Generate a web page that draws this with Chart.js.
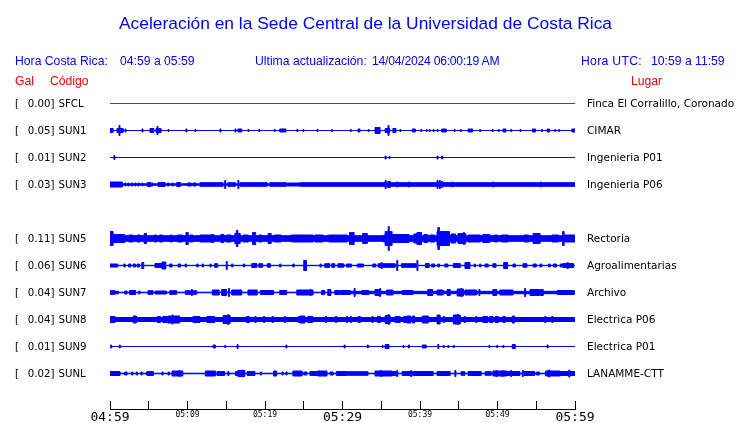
<!DOCTYPE html>
<html><head><meta charset="utf-8">
<script src="https://cdn.jsdelivr.net/npm/chart.js@4"></script>
<style>
html,body{margin:0;padding:0;background:#fff;}
#wrap{position:relative;width:740px;height:423px;overflow:hidden;background:#fff;}
#c{position:absolute;left:0;top:0;}
.t{position:absolute;white-space:pre;font-family:'Liberation Sans',Arial,sans-serif;line-height:1;}
.b{color:#0000ff}.r{color:#ff0000}
</style></head><body>
<div id="wrap">
<canvas id="c" width="740" height="423"></canvas>
<div class="t b" style="left:119px;top:14.8px;font-size:17.4px">Aceleración en la Sede Central de la Universidad de Costa Rica</div>
<div class="t b" style="left:15px;top:54.7px;font-size:12.2px">Hora Costa Rica:</div>
<div class="t b" style="left:120px;top:54.7px;font-size:12.2px">04:59 a 05:59</div>
<div class="t b" style="left:255px;top:54.7px;font-size:12.2px">Ultima actualización:</div>
<div class="t b" style="left:372px;top:54.7px;font-size:12.2px;letter-spacing:-0.25px">14/04/2024 06:00:19 AM</div>
<div class="t b" style="left:581px;top:54.7px;font-size:12.2px;letter-spacing:0.3px">Hora UTC:</div>
<div class="t b" style="left:651px;top:54.7px;font-size:12.2px">10:59 a 11:59</div>
<div class="t r" style="left:15px;top:74.7px;font-size:12.2px">Gal</div>
<div class="t r" style="left:50px;top:74.7px;font-size:12.2px">Código</div>
<div class="t r" style="left:631px;top:74.7px;font-size:12.2px">Lugar</div>
</div>
<script>
// ---- data ----
const codes  = ['SFCL','SUN1','SUN2','SUN3','SUN5','SUN6','SUN7','SUN8','SUN9','SUNL'];
const gal    = [0.00, 0.05, 0.01, 0.03, 0.11, 0.06, 0.04, 0.04, 0.01, 0.02];
const places = ['Finca El Corralillo, Coronado','CIMAR','Ingenieria P01','Ingenieria P06','Rectoria','Agroalimentarias','Archivo','Electrica P06','Electrica P01','LANAMME-CTT'];
const rows   = [0, 1, 2, 3, 5, 6, 7, 8, 9, 10];
const baseHalf = [0, 0, 0, 0.7, 2.8, 0.2, 0.3, 2, 0, 0.3];
const xTickLabels = ['04:59','05:09','05:19','05:29','05:39','05:49','05:59'];
// events: [minute, half amplitude, duration in minutes]
const evSFCL = [];
const evSUN1 = [[0,2,0.4],[0.9,2,0.8],[1.16,5,0.13],[1.94,1.5,0.13],[4.13,1.5,0.13],[5.16,2,0.5],[5.94,2,0.65],[6.06,4,0.13],[7.48,1,0.13],[9.8,1.5,0.13],[10.97,1,0.13],[14.19,1.5,0.13],[16.13,1.5,0.13],[16.5,1.5,0.5],[17.8,1,0.13],[19.2,1,0.13],[21.2,1,0.13],[21.9,1.5,0.8],[24.1,1,0.13],[24.9,1,0.13],[26.7,1,0.13],[28.6,1,0.13],[31.0,1,0.13],[32.0,1.5,0.26],[33.3,1,0.13],[34.2,3,0.65],[35.5,2,0.6],[35.87,5,0.13],[36.5,2,0.4],[37.4,1,0.13],[39.0,1.5,0.4],[40.1,1,0.13],[40.8,1,0.13],[41.2,1,0.13],[41.7,1,0.13],[42.2,1,0.13],[42.8,1.5,0.6],[44.4,1,0.13],[45.2,1,0.13],[46.2,1.5,0.6],[47.7,1,0.13],[49.3,1,0.13],[50.1,1,0.13],[50.7,1.5,0.4],[51.7,1,0.13],[52.9,1,0.13],[54.5,1.5,0.4],[55.7,1,0.13],[56.4,1.5,0.3],[57.4,1,0.13],[57.9,1,0.13],[59.6,1.5,0.4]];
const evSUN2 = [[0.5,2,0.13],[35.5,1.5,0.13],[36.0,1,0.13],[42.2,1.5,0.13],[42.8,1.5,0.13]];
const evSUN3 = [[0,2.5,1.6],[1.9,1.5,0.15],[2.3,1.5,0.15],[2.8,1.5,0.15],[3.2,1.5,0.15],[3.6,1.5,0.15],[4.1,1.5,0.15],[4.8,2,0.5],[5.4,1.5,0.15],[6.2,2,0.9],[7.4,1.5,0.2],[8.0,1.5,0.2],[8.6,2,0.5],[10.0,1.5,0.5],[10.7,1.5,0.4],[11.6,1.8,3.0],[14.8,4,0.13],[15.2,1.8,1.0],[16.5,4,0.13],[16.8,1.8,3.5],[20.6,1.8,2.2],[22.9,1.5,1.6],[24.5,1.8,35.5],[35.5,4,0.13],[35.8,3,0.4],[37.0,2.5,0.13],[38.5,2.5,0.13],[42.2,4,0.13],[42.5,4,0.13],[42.8,3,0.13],[44.1,2.5,0.13],[49.4,2.5,0.13],[55.5,2.5,0.13]];
const evSUN5 = [[0,7,0.4],[0.4,4,1.5],[2.4,3.5,0.6],[3.5,3.5,0.4],[4.4,5,0.3],[5.7,3.5,0.3],[6.4,3.5,0.4],[7.8,3.5,0.25],[8.7,3.5,0.65],[9.8,6,0.3],[10.3,3.5,0.4],[11.6,3.5,1.7],[13.1,4,0.3],[14.3,4,0.4],[15.0,3.5,0.65],[16.1,5,0.7],[16.3,8,0.2],[17.2,3.5,0.65],[18.4,6,0.4],[19.2,3.5,0.4],[20.4,5,0.4],[21.2,3.5,0.9],[23.4,3.5,2.8],[26.4,3.5,1.1],[28.2,3.5,1.7],[29.7,3.5,0.9],[30.9,6,0.3],[31.0,6,0.5],[32.6,5,0.6],[35.3,3.5,0.4],[35.5,7,0.9],[35.9,12,0.13],[36.4,4,2.2],[39.2,4.5,0.5],[39.6,6,0.6],[40.5,4,0.5],[41.3,3.5,0.6],[42.2,7,1.6],[42.3,11,0.2],[44.0,4.5,0.6],[44.9,5,1.0],[45.6,6,0.13],[46.2,3.5,1.6],[48.1,4,0.9],[49.6,3.5,0.4],[50.5,3.5,0.9],[53.4,3.5,0.65],[54.6,5,0.9],[57.0,3.5,0.9],[58.4,7,0.2],[58.7,3.5,1.3]];
const evSUN6 = [[0,1.5,1.0],[1.8,1.5,0.15],[2.4,1.5,0.3],[3.0,1.5,0.3],[3.5,1.5,0.3],[4.1,3,0.25],[5.8,2,0.9],[6.7,3.5,0.5],[7.7,1.5,0.3],[8.8,1.5,0.3],[9.7,1.5,0.15],[11.2,1.5,0.15],[11.9,1.5,0.15],[12.9,1.5,0.15],[13.5,1.8,0.4],[15.0,4,0.13],[15.7,1.5,0.15],[17.2,1.5,0.15],[18.3,2,0.65],[19.2,1.8,0.5],[20.3,1.8,0.4],[21.9,1.5,0.15],[23.6,1.5,0.15],[25.0,5,0.35],[27.1,1.5,0.15],[27.7,1.8,0.65],[28.6,1.8,0.4],[29.4,1.8,0.65],[29.8,1.5,0.4],[30.5,1.5,0.65],[31.9,1.5,0.8],[33.9,1.5,0.4],[34.6,1.8,2.2],[35.0,3,0.13],[37.0,5,0.13],[37.6,1.8,1.9],[39.6,5,0.13],[40.7,2,0.5],[41.5,1.5,0.4],[42.3,1.5,0.2],[43.2,1.5,0.4],[44.3,2,0.9],[45.8,3,0.65],[47.0,1.5,0.15],[47.7,1.5,0.15],[48.4,1.5,0.4],[49.4,1.8,0.4],[50.8,3,0.5],[52.0,1.5,0.3],[53.3,1.8,0.5],[54.6,1.5,0.4],[55.5,1.5,0.2],[56.6,1.5,0.2],[57.2,1.5,0.4],[58.1,1.5,0.4],[58.5,2,1.3],[59.0,3,0.13]];
const evSUN7 = [[0,1.8,0.65],[0.6,1.3,0.5],[1.9,1.5,0.3],[2.5,2,0.8],[3.7,1.5,0.15],[4.9,1.8,0.65],[5.8,1.5,1.5],[7.7,1.8,0.9],[9.7,1.8,1.5],[10.5,3,0.13],[13.2,2.5,0.9],[14.4,3,0.65],[15.3,4,0.13],[15.7,2.5,1.3],[17.8,2.5,1.2],[19.4,2,1.7],[21.9,2,0.9],[24.1,2.5,2.1],[25.8,3,0.13],[27.3,2,0.4],[28.1,3,0.4],[29.0,2,0.6],[29.7,1.2,30.3],[29.7,2,1.3],[31.5,4,0.13],[32.5,2,0.9],[34.2,3,0.65],[34.8,4,0.13],[35.7,2.5,0.8],[37.7,2,1.4],[41.0,3,0.65],[42.2,2.5,0.8],[43.5,3,0.4],[44.8,3.5,0.8],[45.3,4,0.13],[45.8,2.5,1.5],[47.6,3,0.13],[49.4,3,0.5],[50.3,2.5,1.7],[53.5,4,0.13],[54.2,3,1.2],[55.5,3,0.4],[57.7,2,2.2]];
const evSUN8 = [[0,3,0.65],[3.0,3.5,0.4],[6.1,3,0.4],[6.8,3,0.65],[7.5,3.5,1.5],[8.0,4.5,0.13],[10.7,3,0.9],[12.5,3,1.0],[14.6,4,0.9],[15.2,5,0.13],[17.6,3,0.4],[18.7,3,0.15],[19.8,3,0.15],[20.9,3,0.15],[22.5,3,0.15],[24.3,3,0.15],[24.5,3.5,0.65],[25.5,3,0.65],[27.8,3,0.15],[29.1,3,0.15],[30.5,3,0.15],[31.0,3,0.15],[32.0,3,0.3],[33.8,3,0.15],[34.5,3,0.4],[35.5,4,0.65],[35.9,5,0.13],[36.8,3,0.65],[37.9,3,0.3],[38.3,3.5,0.5],[39.0,3.5,0.3],[40.3,3.5,0.8],[42.2,4.5,0.4],[43.0,3,0.15],[44.3,4.5,0.9],[44.8,5,0.13],[45.7,3,0.15],[47.2,3,0.15],[48.1,3,0.65],[49.0,3,0.4],[49.7,3,0.4],[50.7,3,0.3],[51.9,3.5,0.3],[56.1,3,0.15],[57.0,3,0.15]];
const evSUN9 = [[0.1,1.5,0.13],[1.2,1.5,0.13],[13.3,1.5,0.3],[14.8,1,0.13],[16.4,2,0.13],[22.7,1.5,0.13],[30.2,1.5,0.13],[33.2,1.5,0.13],[35.1,1,0.13],[35.5,2,0.5],[37.8,1,0.13],[38.5,1.5,0.13],[40.3,1.5,0.5],[42.3,2,0.13],[43.0,1,0.13],[43.6,1,0.13],[44.3,1,0.13],[48.9,1,0.13],[49.9,1,0.13],[50.7,1,0.13],[51.9,2,0.4],[56.4,1.5,0.13]];
const evSUNL = [[0,2,1.3],[1.9,1.5,0.3],[2.8,1.5,0.15],[3.4,1.5,0.15],[4.0,1.5,0.15],[4.7,1.5,0.3],[4.8,2,0.8],[5.3,1.5,0.3],[6.7,1.5,0.15],[7.5,1.5,0.15],[8.0,2.5,1.4],[8.9,3,0.13],[12.3,2.5,1.3],[13.8,2,1.0],[15.2,2,0.15],[16.2,2,0.3],[16.5,3,0.9],[17.0,3.5,0.13],[17.7,2,1.0],[19.4,1.5,0.15],[21.1,2.5,0.4],[22.2,1.5,0.15],[22.7,1.5,0.15],[23.6,2.5,1.2],[25.0,1.5,0.4],[25.8,2,0.9],[26.8,2.5,1.2],[28.4,1.5,0.4],[29.2,2,1.3],[29.7,1.8,3.6],[34.2,2.5,2.2],[34.9,3,0.13],[36.1,2,0.8],[37.0,3,0.13],[37.7,2,1.3],[38.8,3,0.13],[39.1,2,2.6],[42.2,2,1.7],[44.5,3,0.13],[45.3,1.8,0.5],[46.2,2,1.7],[48.4,1.8,0.8],[49.4,2.5,1.8],[49.8,3,0.13],[50.6,3,0.13],[51.2,2,1.7],[51.7,3,0.13],[53.2,3,0.13],[53.4,2,1.4],[55.0,1.5,0.4],[56.2,2.5,1.9],[56.6,3.5,0.13],[57.9,2,2.1],[59.2,3.5,0.13]];
const stationEvents = [evSFCL, evSUN1, evSUN2, evSUN3, evSUN5, evSUN6, evSUN7, evSUN8, evSUN9, evSUNL];
const traceColors = ['#ff0000','#0000ff','#0000ff','#0000ff','#0000ff','#0000ff','#0000ff','#0000ff','#0000ff','#0000ff'];
const ROW = 27;

// ---- build step envelopes from the events ----
function envelope(base, evs) {
  const MIN_D = 0.06;
  const set = new Set([0, 60]);
  evs.forEach(([t, a, d]) => { set.add(t); set.add(Math.min(60, t + Math.max(d, MIN_D))); });
  const bs = [...set].sort((p, q) => p - q);
  const out = [];
  for (let i = 0; i < bs.length - 1; i++) {
    const s = bs[i], e = bs[i + 1];
    let amp = base;
    evs.forEach(([t, a, d]) => {
      const te = t + Math.max(d, MIN_D);
      if (t <= s + 1e-9 && te >= e - 1e-9) amp = Math.max(amp, a);
    });
    out.push({ x: s, a: amp });
  }
  out.push({ x: 60, a: out[out.length - 1].a });
  return out;
}

const datasets = [];
codes.forEach((code, i) => {
  const env = envelope(baseHalf[i], stationEvents[i]);
  const y0 = rows[i] * ROW;
  const common = { borderColor: traceColors[i], backgroundColor: traceColors[i], borderWidth: 1, pointRadius: 0, stepped: true, tension: 0 };
  datasets.push(Object.assign({ label: code + ' top', data: env.map(p => ({ x: p.x, y: y0 - p.a })), fill: '+1' }, common));
  datasets.push(Object.assign({ label: code + ' bottom', data: env.map(p => ({ x: p.x, y: y0 + p.a })), fill: false }, common));
});

const labelPlugin = {
  id: 'stationLabels',
  afterDraw(chart) {
    const ctx = chart.ctx, y = chart.scales.y;
    ctx.save();
    ctx.fillStyle = '#000';
    ctx.textBaseline = 'alphabetic';
    codes.forEach((code, i) => {
      const py = y.getPixelForValue(rows[i] * ROW) + 3.7;
      ctx.font = "10.2px 'DejaVu Sans'";
      ctx.textAlign = 'left';
      ctx.fillText('[', 15, py);
      ctx.textAlign = 'right';
      ctx.fillText(gal[i].toFixed(2) + ']', 54.5, py);
      ctx.textAlign = 'left';
      ctx.fillText(code, 58.5, py);
      ctx.font = "10.5px 'DejaVu Sans'";
      ctx.fillText(places[i], 587, py);
    });
    ctx.restore();
  }
};

new Chart(document.getElementById('c'), {
  type: 'line',
  data: { datasets },
  options: {
    responsive: false,
    animation: false,
    events: [],
    layout: { padding: { left: 110, right: 165, top: 76, bottom: 0 } },
    plugins: { legend: { display: false }, tooltip: { enabled: false }, title: { display: false } },
    scales: {
      x: {
        type: 'linear', min: 0, max: 60,
        afterFit: (s) => { s.height = 14; },
        border: { display: true, color: '#000', width: 1 },
        grid: { drawOnChartArea: false, drawTicks: true, tickLength: -8, color: '#000', tickColor: '#000', lineWidth: 1 },
        ticks: {
          stepSize: 5, autoSkip: false, maxRotation: 0, minRotation: 0, padding: 9, color: '#000',
          font: (c) => (c.tick && c.tick.value % 30 === 0)
            ? { family: "'DejaVu Sans Mono'", size: 13 }
            : { family: "'DejaVu Sans Mono'", size: 8 },
          callback: (v) => (v % 10 === 0 ? xTickLabels[v / 10] : '')
        }
      },
      y: { type: 'linear', display: false, min: -27.5, max: 305.5, reverse: true }
    }
  },
  plugins: [labelPlugin]
});
</script>
</body></html>
